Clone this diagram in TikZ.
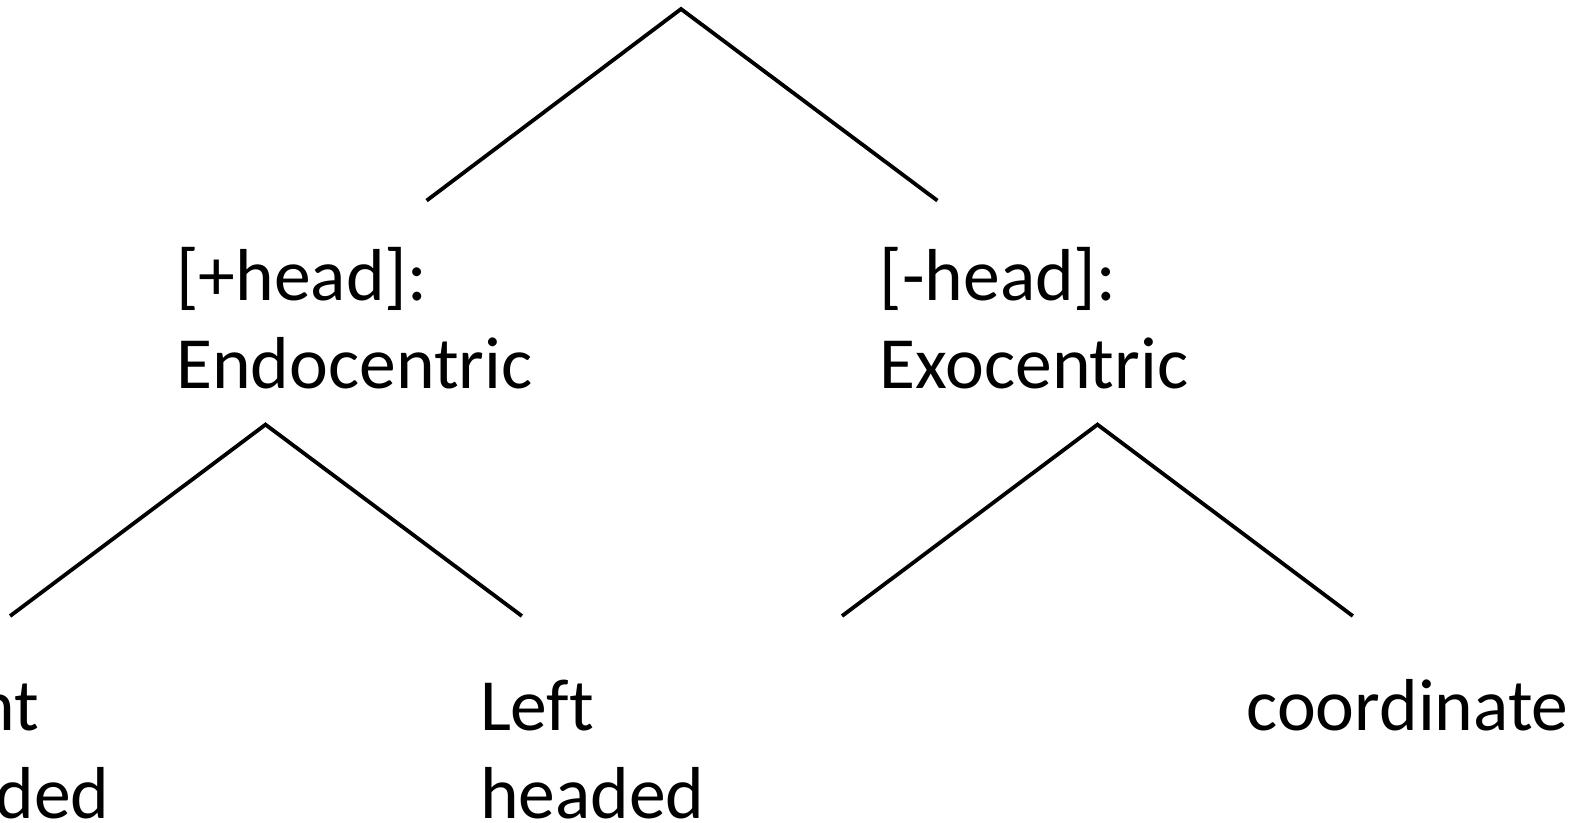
\documentclass[tikz,border=0pt]{standalone}
\usepackage{fontspec}
\setmainfont[Ligatures={NoCommon}]{Carlito}
\begin{document}
\begin{tikzpicture}[x=1pt,y=-1pt,
  branch/.style={line width=3.8pt,line cap=butt,line join=miter},
  lbl/.style={anchor=base west,inner sep=0pt,outer sep=0pt,align=left,
    font=\fontsize{73.6}{88.3}\selectfont}]
\useasboundingbox (0,0) rectangle (1589,822);
% tree points
\coordinate (top) at (681,9);
\coordinate (topL) at (426.6,200.6);
\coordinate (topR) at (937.4,200.6);
\coordinate (endo) at (265.5,424.6);
\coordinate (endoL) at (10.1,616);
\coordinate (endoR) at (521.9,616);
\coordinate (exo) at (1097.5,424.6);
\coordinate (exoL) at (842,616);
\coordinate (exoR) at (1352.8,616);
% labels (base = baseline of last line)
\node[lbl] (plus) at (176.3,388.3) {[+head]:\\Endocentric};
\node[lbl] (minus) at (879.6,388.3) {[-head]:\\Exocentric};
\node[lbl] (right) at (-115,818.3) {Right\\headed};
\node[lbl] (left) at (480,818.3) {Left\\headed};
\node[lbl] (coord) at (1246.5,730) {coordinate};
% branches
\draw[branch] (topL) -- (top) -- (topR);
\draw[branch] (endoL) -- (endo) -- (endoR);
\draw[branch] (exoL) -- (exo) -- (exoR);
\end{tikzpicture}
\end{document}
